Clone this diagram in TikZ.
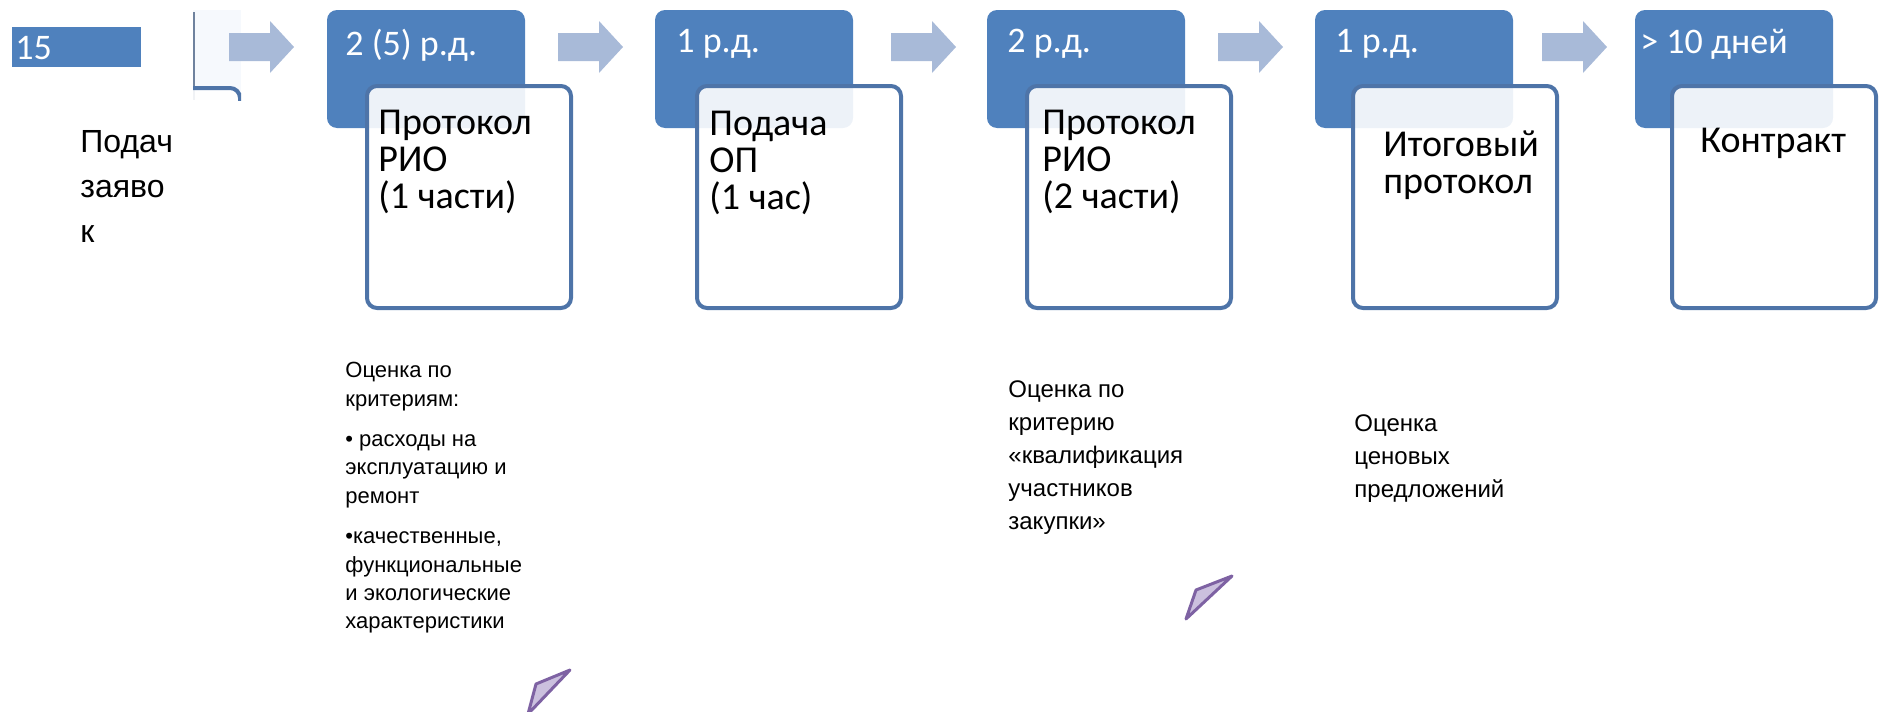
\documentclass[tikz,border=0pt]{standalone}
\usepackage{fontspec}
\setmainfont{Liberation Sans}
\newfontfamily\calfont{Carlito}
\definecolor{boxblue}{HTML}{4F81BD}
\definecolor{edgeblue}{HTML}{4E74A8}
\definecolor{arrowblue}{HTML}{A8BAD8}
\definecolor{triedge}{HTML}{7E62A3}
\definecolor{trifill}{HTML}{CBC0DE}
\definecolor{faintblue}{HTML}{F6F9FD}
\definecolor{faintline}{HTML}{6F829E}
\tikzset{
  darkbox/.style={fill=boxblue, rounded corners=5pt, minimum width=99pt, minimum height=59pt, anchor=north west, inner sep=0pt, outer sep=0pt},
  whitebox/.style={draw=edgeblue, line width=2pt, fill=white, fill opacity=0.9, draw opacity=1, rounded corners=5pt, minimum width=102pt, minimum height=111pt, anchor=north west, inner sep=0pt, outer sep=0pt},
  headtxt/.style={anchor=north west, inner sep=0pt, text=white, font=\calfont\fontsize{18}{20}\selectfont},
  boxtxt/.style={anchor=north west, inner sep=0pt, align=left, text=black, font=\calfont\fontsize{19}{18.5}\selectfont},
  smalltxt/.style={anchor=north west, inner sep=0pt, align=left, text=black, font=\fontsize{11}{14.2}\selectfont},
  midtxt/.style={anchor=north west, inner sep=0pt, align=left, text=black, font=\fontsize{12}{16.5}\selectfont},
  sidetxt/.style={anchor=north west, inner sep=0pt, align=left, text=black, font=\fontsize{16}{22.5}\selectfont},
  blockarrow/.pic={\fill[arrowblue] (0,-14) -- (41,-14) -- (41,-26) -- (65,0) -- (41,26) -- (41,14) -- (0,14) -- cycle;},
  tri/.style={draw=triedge, fill=trifill, line width=1.5pt, line join=round}
}
\begin{document}
\begin{tikzpicture}[x=0.5pt,y=-0.5pt]
\useasboundingbox (0,0) rectangle (1881,712);

% number tag
\node[fill=boxblue, anchor=north west, minimum width=64.5pt, minimum height=20pt, inner sep=0pt] (tag) at (12,27) {};
\node[headtxt, anchor=west] (tagtxt) at (15,48) {15};

% partial box at left
\begin{scope}
\clip (193,10) rectangle (241,100);
\fill[faintblue] (193,10) rectangle (241,100);
\draw[faintline, line width=0.7pt] (194,12) -- (194,100);
\node[whitebox, anchor=north east] (w0) at (240,88) {};
\end{scope}

\node[sidetxt] (side) at (80,130) {Подач\\заяво\\к};

% arrows
\pic at (229,47) {blockarrow};
\pic at (558,47) {blockarrow};
\pic at (891,47) {blockarrow};
\pic at (1218,47) {blockarrow};
\pic at (1542,47) {blockarrow};

% stages
\node[darkbox] (d1) at (327,10) {};
\node[darkbox] (d2) at (655,10) {};
\node[darkbox] (d3) at (987,10) {};
\node[darkbox] (d4) at (1315,10) {};
\node[darkbox] (d5) at (1635,10) {};

\node[whitebox] (w1) at (367,86) {};
\node[whitebox] (w2) at (697,86) {};
\node[whitebox] (w3) at (1027,86) {};
\node[whitebox] (w4) at (1353,86) {};
\node[whitebox] (w5) at (1672,86) {};

\node[headtxt] (h1) at (345,29) {2 (5) р.д.};
\node[headtxt] (h2) at (676,29) {1 р.д.};
\node[headtxt] (h3) at (1007,29) {2 р.д.};
\node[headtxt] (h4) at (1335,29) {1 р.д.};
\node[headtxt] (h5) at (1640,29) {> 10 дней};

\node[boxtxt] (t1) at (378,110) {Протокол\\РИО\\(1 части)};
\node[boxtxt] (t2) at (709,111) {Подача\\ОП\\(1 час)};
\node[boxtxt] (t3) at (1042,110) {Протокол\\РИО\\(2 части)};
\node[boxtxt] (t4) at (1383,130) {Итоговый\\протокол};
\node[boxtxt] (t5) at (1700,128) {Контракт};

% lower notes
\node[smalltxt] (n1) at (345,362) {Оценка по\\критериям:\\[6pt]• расходы на\\эксплуатацию и\\ремонт\\[6pt]•качественные,\\функциональные\\и экологические\\характеристики};
\node[midtxt] (n2) at (1008,380) {Оценка по\\критерию\\«квалификация\\участников\\закупки»};
\node[midtxt] (n3) at (1354,414) {Оценка\\ценовых\\предложений};

% decorative triangles
\filldraw[tri] (570,670) -- (536,684) -- (528,714) -- cycle;
\filldraw[tri] (1232,576) -- (1196,590) -- (1186,619) -- cycle;
\end{tikzpicture}
\end{document}
